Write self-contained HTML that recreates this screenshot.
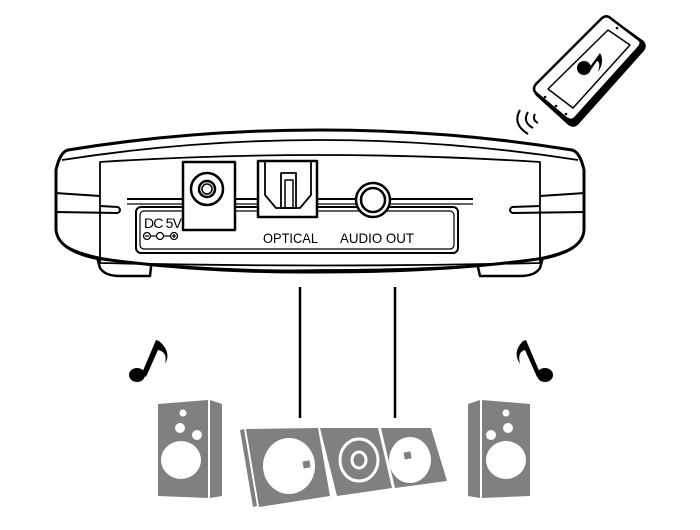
<!DOCTYPE html>
<html><head><style>body{margin:0;background:#fff}svg{display:block}</style></head><body>
<svg width="700" height="530" viewBox="0 0 700 530" xmlns="http://www.w3.org/2000/svg" font-family="Liberation Sans, sans-serif">
<g fill="none" stroke="#000" stroke-width="2.5" stroke-linejoin="round">
<path d="M95 250 L100 268 Q105 276 120 276 L150 276 L152 258" fill="#fff"/>
<path d="M545 250 L540 268 Q535 276 520 276 L480 276 L476 258" fill="#fff"/>
<path d="M68 150 Q60 152 56 170 L56 230 Q58 250 95 258 Q200 273 320 272 Q450 272 545 258 Q583 250 584 230 L584 170 Q580 152 572 150 Q450 130 320 130 Q190 130 68 150 Z" fill="#fff" stroke-width="3"/>
<path d="M62 160 Q190 140 320 140 Q450 140 578 160" stroke-width="1.8"/>
<path d="M58 238 Q70 258 150 264 Q250 272 320 270 Q420 270 500 264 Q575 256 582 238" stroke-width="1.8"/>
<path d="M55 193 L100 196 M55 212 L118 213 M118 213 Q122 210 118 207 L100 206" stroke-width="2"/>
<path d="M585 193 L540 196 M585 212 L512 213 M512 213 Q508 210 512 207 L540 206" stroke-width="2"/>
<path d="M100 162 Q320 148 540 162 L540 263 Q320 268 100 263 Z" stroke-width="1.8"/>
<line x1="127" y1="199" x2="473" y2="199" stroke-width="2"/>
<path d="M127 204 L473 204" stroke-width="1.2"/>
<rect x="136" y="207" width="322" height="46" rx="5" stroke-width="2"/>
<rect x="140" y="211" width="314" height="38" rx="4" stroke-width="1.2"/>
<rect x="183" y="162" width="52" height="68" fill="#fff"/>
<circle cx="207" cy="189" r="16"/>
<circle cx="207" cy="189" r="8"/>
<circle cx="207" cy="189" r="5" stroke-width="1.5"/>
<rect x="258" y="161" width="59" height="56" fill="#fff"/>
<path d="M265 161 L265 195 L276 208 L300 208 L311 195 L311 161" stroke-width="1.8"/>
<rect x="281" y="173" width="15" height="35" stroke-width="1.8"/>
<rect x="285" y="180" width="8" height="28" stroke-width="1.5"/>
<circle cx="373" cy="200" r="17" fill="#fff"/>
<circle cx="373" cy="200" r="12"/>
<line x1="300" y1="287" x2="300" y2="418" stroke-width="2.5"/>
<line x1="395" y1="287" x2="395" y2="418" stroke-width="2.5"/>
</g>
<text x="144" y="228" font-size="14" textLength="38">DC 5V</text>
<g fill="none" stroke="#000" stroke-width="1.3"><circle cx="147" cy="236" r="3.5"/><circle cx="160" cy="236" r="3.5"/><circle cx="174" cy="236" r="3.5"/><path d="M151 236 H156 M164 236 H170 M145 236H149 M174 234V238 M172 236H176"/></g>
<text x="263" y="243" font-size="14" textLength="55" lengthAdjust="spacingAndGlyphs">OPTICAL</text>
<text x="340" y="243" font-size="14" textLength="74" lengthAdjust="spacingAndGlyphs">AUDIO OUT</text>
<!-- phone -->
<g fill="none" stroke="#000" stroke-linejoin="round">
<path d="M612 19 L643 41 Q647 45 644 50 L578 124 Q574 128 569 125 L537 96 Q532 91 536 86 L602 20 Q607 16 612 19Z" fill="#000" stroke-width="1"/>
<path d="M609 17 Q605 15 601 19 L536 84 Q532 89 536 93 L566 118 Q571 122 575 118 L639 47 Q643 42 638 39 Z" fill="#fff" stroke-width="2.5"/>
<path d="M608 30 L630 45 L573 108 L548 89 Z" stroke-width="1.5"/>
</g>
<circle cx="584" cy="68" r="7"/>
<path d="M589 68 L600 53 Q605 62 598 72 Q601 62 597 61 L590 71Z"/>
<g fill="#000"><circle cx="545" cy="97" r="1.3"/><circle cx="556" cy="106" r="1.3"/><circle cx="566" cy="114" r="1.3"/><circle cx="617" cy="28" r="1.3"/></g>
<g fill="none" stroke="#000" stroke-width="2"><path d="M520 110 Q512 124 528 134"/><path d="M528 112 Q522 122 533 128"/><path d="M535 114 Q532 120 538 123"/></g>
<g fill="#000">
<ellipse cx="137" cy="375" rx="8" ry="7"/><path d="M142 373 L156 340 L159 341 Q172 352 165 364 Q168 352 158 350 L146 377Z"/>
<ellipse cx="545" cy="375" rx="8" ry="7"/><path d="M540 373 L526 340 L523 341 Q512 352 520 364 Q517 352 525 350 L537 377Z"/>
</g>
<g fill="#808080">
<path d="M158 404 L208 400 L208 498 L158 496Z"/><path d="M210 400 L222 404 L222 496 L210 498Z"/>
<path d="M482 400 L530 404 L530 496 L482 498Z"/><path d="M468 404 L480 400 L480 498 L468 496Z"/>
<path d="M240 430 L244 429 L257 506 L253 507Z"/>
<path d="M246 429 L318 428 L330 496 L259 507Z"/>
<path d="M320 428 L378 428 L392 488 L337 496Z"/>
<path d="M381 428 L431 428 L447 481 L395 488Z"/>
</g>
<g fill="#fff">
<circle cx="183" cy="413" r="3.5"/><circle cx="180" cy="428" r="5"/><circle cx="197" cy="435" r="5"/><ellipse cx="181" cy="460" rx="20" ry="19"/>
<circle cx="506" cy="413" r="3.5"/><circle cx="508" cy="428" r="5"/><circle cx="491" cy="435" r="5"/><ellipse cx="506" cy="460" rx="20" ry="19"/>
<ellipse cx="289" cy="466" rx="26" ry="28"/>
<ellipse cx="410" cy="460" rx="21" ry="23"/>
</g>
<rect x="303" y="461" width="7" height="7" fill="#808080" transform="rotate(-10 306 464)"/>
<rect x="404" y="452" width="7" height="7" fill="#808080" transform="rotate(-10 407 455)"/>
<g fill="none" stroke="#fff" stroke-width="3"><ellipse cx="359" cy="460" rx="19" ry="21"/><ellipse cx="359" cy="460" rx="7" ry="8"/></g>
</svg>
</body></html>
